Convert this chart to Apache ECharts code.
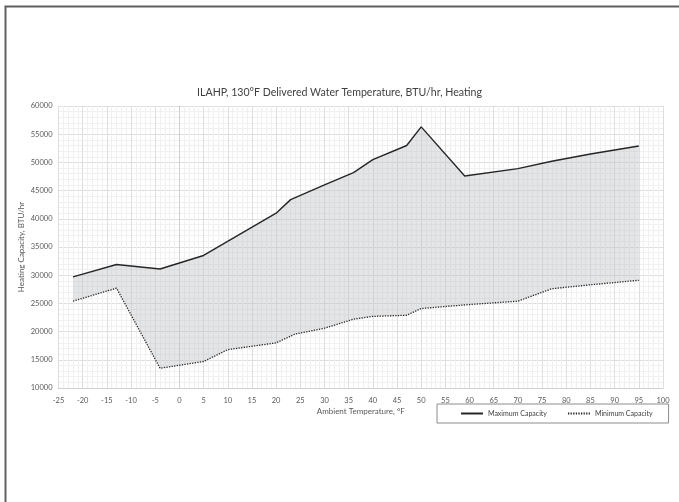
<!DOCTYPE html>
<html>
<head>
<meta charset="utf-8">
<script src="https://cdn.jsdelivr.net/npm/echarts@6/dist/echarts.min.js"></script>
<style>
  html, body { margin: 0; padding: 0; background: #fff; }
  #chart { width: 679px; height: 502px; }
</style>
</head>
<body>
<div id="chart"></div>
<script>
// Ambient temperature (°F) and heating capacity (BTU/hr) envelope
const maxTemps = [-22, -13, -4, 5, 20, 23, 30, 36, 40, 47, 50, 59, 70, 77, 85, 95];
const maxCapacity = [29700, 31900, 31100, 33500, 41000, 43400, 46000, 48200, 50500, 53000, 56300, 47600, 48900, 50200, 51500, 52900];

const minTemps = [-22, -13, -4, 5, 10, 20, 24, 30, 36, 40, 47, 50, 60, 70, 77, 85, 95];
const minCapacity = [25400, 27700, 13500, 14700, 16800, 18000, 19600, 20600, 22200, 22700, 22900, 24100, 24800, 25400, 27600, 28300, 29100];

const titleText = 'ILAHP, 130°F Delivered Water Temperature, BTU/hr, Heating';
const xName = 'Ambient Temperature, °F';
const yName = 'Heating Capacity, BTU/hr';

const maxPts = maxTemps.map((t, i) => [t, maxCapacity[i]]);
const minPts = minTemps.map((t, i) => [t, minCapacity[i]]);

const FONT = 'Lato';

const chart = echarts.init(document.getElementById('chart'), null, { renderer: 'canvas' });

chart.setOption({
  animation: false,
  backgroundColor: '#fff',
  textStyle: { fontFamily: FONT },
  title: {
    text: titleText,
    left: 'center',
    top: 82,
    textStyle: { fontFamily: FONT, fontSize: 10.6, fontWeight: 'normal', color: '#404040' }
  },
  graphic: [
    {
      type: 'polyline',
      silent: true,
      shape: { points: [[5.5, 502], [5.5, 6.5], [679, 6.5]] },
      style: { stroke: '#606060', lineWidth: 2, fill: null }
    }
  ],
  grid: { left: 58.5, right: 16, top: 106, bottom: 114 },
  legend: {
    orient: 'horizontal',
    left: 437,
    top: 404,
    width: 320,
    itemGap: 20,
    padding: [6, 16, 6, 23],
    borderColor: '#8c8c8c',
    borderWidth: 1,
    itemWidth: 22,
    itemHeight: 8,
    itemStyle: { opacity: 0 },
    textStyle: { fontFamily: FONT, fontSize: 7, color: '#404040' },
    data: ['Maximum Capacity', 'Minimum Capacity']
  },
  xAxis: {
    type: 'value',
    min: -25,
    max: 100,
    interval: 5,
    name: xName,
    nameLocation: 'middle',
    nameGap: 19,
    nameMoveOverlap: false,
    nameTextStyle: { fontFamily: FONT, fontSize: 8, color: '#595959' },
    axisLine: { show: true, lineStyle: { color: '#d0d0d0', width: 1 } },
    axisTick: { show: false },
    axisLabel: { fontFamily: FONT, fontSize: 7.5, color: '#595959', margin: 9 },
    splitLine: { show: true, lineStyle: { color: '#dedede', width: 1 } },
    minorTick: { show: false, splitNumber: 5 },
    minorSplitLine: { show: true, lineStyle: { color: '#f0f0f0', width: 1 } }
  },
  yAxis: {
    type: 'value',
    min: 10000,
    max: 60000,
    interval: 5000,
    name: yName,
    nameLocation: 'middle',
    nameGap: 33,
    nameRotate: 90,
    nameMoveOverlap: false,
    nameTextStyle: { fontFamily: FONT, fontSize: 8, color: '#595959' },
    axisLine: { show: true, lineStyle: { color: '#d0d0d0', width: 1 } },
    axisTick: { show: false },
    axisLabel: {
      fontFamily: FONT, fontSize: 7.5, color: '#595959', margin: 6,
      formatter: v => String(v)
    },
    splitLine: { show: true, lineStyle: { color: '#dedede', width: 1 } },
    minorTick: { show: false, splitNumber: 5 },
    minorSplitLine: { show: true, lineStyle: { color: '#f0f0f0', width: 1 } }
  },
  series: [
    {
      // shaded operating envelope between the two capacity curves
      type: 'custom',
      silent: true,
      z: 1,
      data: [0],
      renderItem: function (params, api) {
        const upper = maxPts.map(p => api.coord(p));
        const lower = minPts.slice().reverse().map(p => api.coord(p));
        return {
          type: 'polygon',
          shape: { points: upper.concat(lower) },
          style: { fill: 'rgba(190,192,198,0.42)', stroke: null }
        };
      }
    },
    {
      name: 'Maximum Capacity',
      type: 'line',
      data: maxPts,
      symbol: 'none',
      z: 3,
      lineStyle: { color: '#262626', width: 1.4, type: 'solid' },
      itemStyle: { color: '#262626' }
    },
    {
      name: 'Minimum Capacity',
      type: 'line',
      data: minPts,
      symbol: 'none',
      z: 3,
      lineStyle: { color: '#262626', width: 1.3, type: [1.3, 1.3] },
      itemStyle: { color: '#262626' }
    }
  ]
});
</script>
</body>
</html>
